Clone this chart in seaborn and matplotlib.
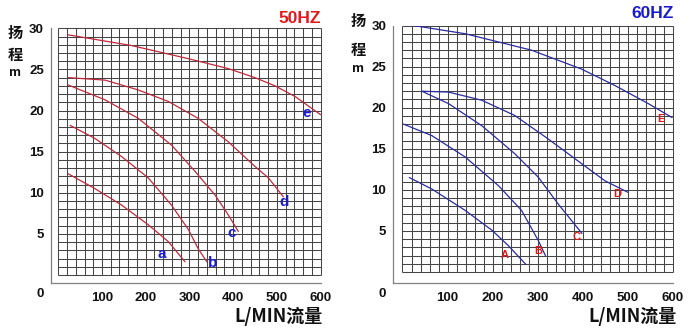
import numpy as np
import pandas as pd
import matplotlib
matplotlib.use("Agg")
import matplotlib.pyplot as plt
import seaborn as sns

# ---- pump curves, 50 Hz (flow L/min, head m) ----
a_q = [23, 84, 145, 206, 252, 290]
a_h = [12.3, 10.5, 8.5, 6.1, 4.05, 1.6]
b_q = [27, 84, 145, 206, 259, 298, 320, 340]
b_h = [18.2, 16.6, 14.4, 11.8, 8.5, 5.5, 3.2, 1.6]
c_q = [23, 107, 183, 259, 313, 359, 389, 412]
c_h = [23.1, 21.3, 19.05, 15.8, 12.6, 9.7, 7.3, 5.3]
d_q = [23, 107, 183, 252, 320, 389, 450, 481, 515]
d_h = [24.0, 23.7, 22.5, 21.1, 19.05, 16.2, 13.2, 11.8, 9.5]
e_q = [23, 168, 298, 389, 450, 496, 542, 600]
e_h = [29.2, 27.9, 26.3, 25.1, 24.0, 23.0, 21.7, 19.5]

# ---- pump curves, 60 Hz ----
A_q = [15, 65, 139, 198, 235, 274]
A_h = [11.5, 10.1, 7.5, 5.1, 3.2, 0.9]
B_q = [2, 65, 139, 213, 264, 301, 317]
B_h = [18.0, 16.6, 14.0, 10.5, 7.5, 3.85, 2.0]
C_q = [43, 102, 176, 249, 301, 345, 398]
C_h = [22.0, 20.5, 17.8, 14.4, 11.55, 8.3, 4.7]
D_q = [43, 102, 176, 249, 323, 397, 449, 500]
D_h = [22.0, 21.9, 20.9, 19.05, 16.2, 13.2, 11.1, 9.7]
E_q = [24, 139, 286, 397, 471, 545, 598]
E_h = [30.0, 29.0, 27.0, 24.7, 22.7, 20.5, 18.8]

# curve name labels and where they sit
labels_50 = ["a", "b", "c", "d", "e"]
label_pos_50 = [(237, 2.5), (353, 1.5), (397, 5.1), (517, 8.9), (568, 19.7)]
labels_60 = ["A", "B", "C", "D", "E"]
label_pos_60 = [(227, 2.1), (301, 2.6), (386, 4.2), (476, 9.5), (574, 18.6)]

x_ticks = [100, 200, 300, 400, 500, 600]
y_ticks = [5, 10, 15, 20, 25, 30]


def long_frame(curves, names):
    rows = []
    for name, (q, h) in zip(names, curves):
        for qi, hi in zip(q, h):
            rows.append({"model": name, "flow": qi, "head": hi})
    return pd.DataFrame(rows)


df50 = long_frame([(a_q, a_h), (b_q, b_h), (c_q, c_h), (d_q, d_h), (e_q, e_h)], labels_50)
df60 = long_frame([(A_q, A_h), (B_q, B_h), (C_q, C_h), (D_q, D_h), (E_q, E_h)], labels_60)

sns.set_theme(style="white")
plt.rcParams["font.family"] = ["Liberation Sans", "Noto Sans CJK SC", "DejaVu Sans"]

W, H = 689, 332
fig = plt.figure(figsize=(W / 100, H / 100), dpi=100)


def rect(l, r, t, b):
    return [l / W, 1 - b / H, (r - l) / W, (b - t) / H]


def setup(ax, xlim, ylim):
    ax.set_xlim(*xlim)
    ax.set_ylim(*ylim)
    # fine chart grid over the 0-600 / 0-30 area only
    ax.vlines(np.arange(0, 601, 20), 0, 30, colors="#454545", lw=0.75, zorder=1, clip_on=False)
    ax.hlines(np.arange(0, 31, 1), 0, 600, colors="#454545", lw=0.75, zorder=1, clip_on=False)
    for s in ["top", "right"]:
        ax.spines[s].set_visible(False)
    for s in ["left", "bottom"]:
        ax.spines[s].set_color("#808080")
        ax.spines[s].set_linewidth(0.9)
    ax.set_xticks(x_ticks)
    ax.set_yticks(y_ticks)
    ax.tick_params(axis="both", which="major", length=3, width=0.9, color="#808080",
                   labelsize=9.5, pad=2, labelcolor="#111111")
    ax.tick_params(axis="x", pad=3)
    for lab in ax.get_xticklabels() + ax.get_yticklabels():
        lab.set_fontweight("bold")
    ax.set_xlabel("")
    ax.set_ylabel("")
    ax.annotate("0", xy=(0, 0), xycoords="axes fraction", xytext=(-11, -11),
                textcoords="offset pixels", ha="center", va="center", fontsize=9.5,
                fontweight="bold", color="#111111")


# ---------- 50 Hz ----------
ax1 = fig.add_axes(rect(50.7, 320.5, 28.3, 283.3))
sns.lineplot(data=df50, x="flow", y="head", units="model", estimator=None, sort=False,
             color="#c0283a", lw=0.9, ax=ax1, zorder=3)
setup(ax1, (-17.4, 600), (-1.01, 30))
for t, (x, y) in zip(labels_50, label_pos_50):
    ax1.text(x, y, t, color="#1a1ad0", fontsize=11, fontweight="bold",
             ha="center", va="center", zorder=4)
fig.text(300 / W, 1 - 18.5 / H, "50HZ", color="#e01818", fontsize=12.5,
         fontweight="bold", ha="center", va="center")

# ---------- 60 Hz ----------
ax2 = fig.add_axes(rect(393.3, 673, 25.5, 283.3))
sns.lineplot(data=df60, x="flow", y="head", units="model", estimator=None, sort=False,
             color="#2a2aa0", lw=0.9, ax=ax2, zorder=3)
setup(ax2, (-20.4, 600), (-1.375, 30))
for t, (x, y) in zip(labels_60, label_pos_60):
    ax2.text(x, y, t, color="#e01818", fontsize=8, fontweight="bold",
             ha="center", va="center", zorder=4)
fig.text(653 / W, 1 - 13.5 / H, "60HZ", color="#1a1ad0", fontsize=12.5,
         fontweight="bold", ha="center", va="center")

# axis titles
for x0, ys in [(15, (33, 55, 73)), (358, (21, 50, 69))]:
    for ch, yy in zip(["扬", "程", "m"], ys):
        fig.text(x0 / W, 1 - yy / H, ch, fontsize=11 if ch != "m" else 9,
                 fontweight="bold", ha="center", va="center", color="#111111",
                 family=["Noto Sans CJK SC", "DejaVu Sans"])
for xc in (279, 632):
    fig.text(xc / W, 1 - 316 / H, "L/MIN流量", fontsize=13, fontweight="bold",
             ha="center", va="center", color="#111111",
             family=["Noto Sans CJK SC", "DejaVu Sans"])

fig.savefig("out.png", dpi=100, facecolor="white")
